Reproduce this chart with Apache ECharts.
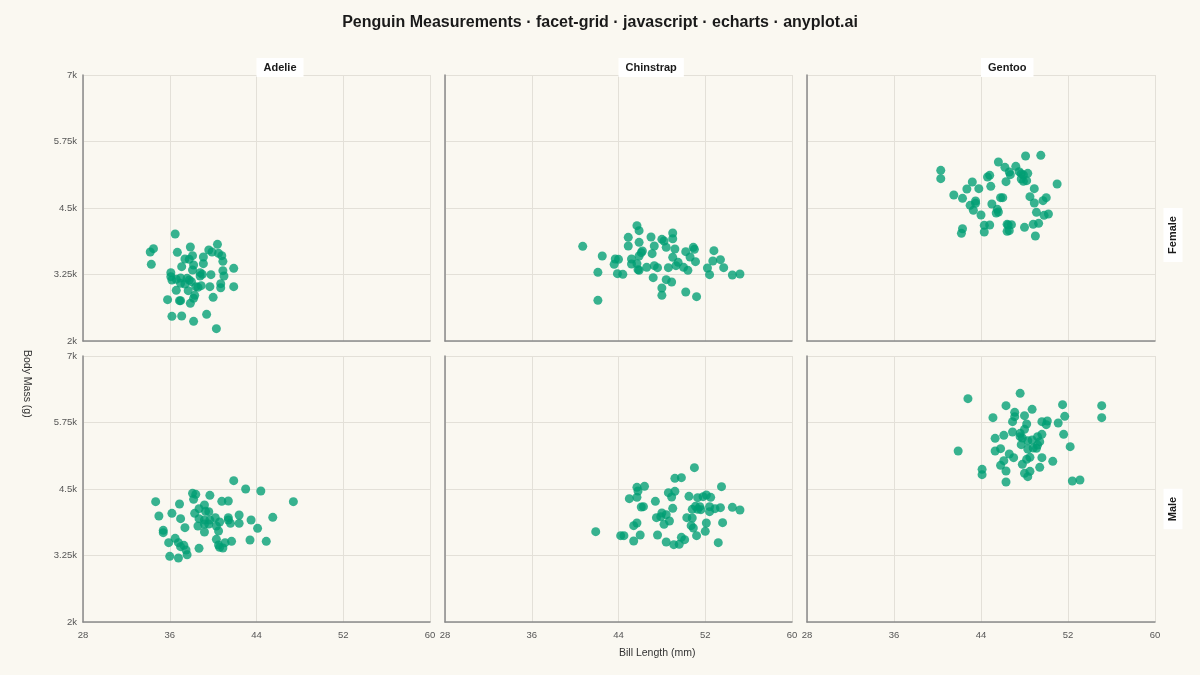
<!DOCTYPE html>
<html>
<head>
<meta charset="utf-8">
<script src="https://cdn.jsdelivr.net/npm/echarts@6/dist/echarts.min.js"></script>
<style>
  html, body { margin: 0; padding: 0; background: #FAF8F1; }
  #chart { width: 1200px; height: 675px; }
</style>
</head>
<body>
<div id="chart"></div>
<script>
// ---- Data (bill length mm, body mass g) ----
const species = ['Adelie', 'Chinstrap', 'Gentoo'];
const sexes = ['Female', 'Male'];
const xTickValues = [28, 36, 44, 52, 60];
const yTickValues = [2000, 3250, 4500, 5750, 7000];

const adelieFemale = [
  [36.5,4011],[34.5,3736],[34.2,3673],[34.3,3441],[37.9,3767],[40.4,3817],[36.7,3667],[38.1,3604],
  [39.6,3710],[39.9,3673],[40.5,3648],[40.8,3604],[40.9,3497],[39.1,3579],[39.1,3454],[37.4,3541],
  [37.8,3535],[38.2,3428],[37.1,3397],[38.1,3334],[41.9,3366],[40.9,3322],[41.0,3222],[36.1,3284],
  [36.1,3209],[36.2,3147],[36.6,3159],[37.0,3184],[37.6,3178],[37.8,3147],[38.0,3115],[38.8,3284],
  [39.0,3253],[38.8,3222],[39.8,3247],[37.0,3084],[37.4,3071],[38.4,3021],[38.6,3009],[38.9,3040],
  [39.7,3021],[40.7,3078],[40.7,3002],[41.9,3021],[36.6,2952],[37.7,2946],[38.3,2858],[38.2,2802],
  [40.0,2821],[35.8,2777],[36.9,2758],[37.0,2758],[37.9,2708],[36.2,2464],[37.1,2470],[39.4,2501],
  [38.2,2370],[40.3,2232]
];
const chinstrapFemale = [
  [45.7,4168],[45.9,4074],[44.9,3949],[44.9,3786],[45.9,3855],[47.0,3955],[48.0,3911],[48.2,3880],
  [49.0,4030],[49.0,3923],[47.3,3786],[48.4,3761],[49.2,3729],[50.9,3761],[51.0,3723],[50.2,3679],
  [46.2,3692],[46.1,3660],[45.9,3598],[47.1,3642],[50.6,3579],[52.8,3698],[40.7,3779],[42.5,3598],
  [43.7,3541],[44.0,3535],[43.6,3441],[45.2,3541],[45.2,3447],[45.7,3454],[45.8,3341],[45.9,3328],
  [46.6,3385],[47.3,3416],[47.6,3378],[48.6,3378],[49.0,3573],[49.5,3479],[49.3,3416],[50.0,3385],
  [50.4,3328],[51.1,3491],[52.7,3504],[53.4,3529],[53.7,3378],[52.2,3372],[52.4,3247],[42.1,3291],
  [43.9,3266],[44.4,3253],[47.2,3190],[48.4,3153],[48.9,3109],[54.5,3241],[55.2,3259],[48.0,2996],
  [48.0,2858],[50.2,2921],[51.2,2833],[42.1,2764]
];
const gentooFemale = [
  [48.1,5477],[49.5,5490],[45.6,5365],[46.2,5264],[47.2,5283],[46.6,5177],[46.7,5127],[47.5,5183],
  [47.7,5145],[48.3,5152],[47.9,5120],[47.9,5001],[48.2,5014],[47.7,5045],[44.8,5114],[44.6,5083],
  [46.3,4995],[44.9,4907],[43.2,4989],[42.7,4857],[43.8,4863],[40.3,5208],[40.3,5051],[41.5,4744],
  [42.3,4682],[43.5,4632],[43.5,4588],[43.0,4550],[43.3,4456],[45.0,4575],[45.8,4694],[46.0,4694],
  [48.9,4863],[48.5,4713],[48.9,4594],[49.7,4638],[50.0,4694],[51.0,4951],[49.1,4418],[49.8,4362],
  [50.2,4387],[45.5,4475],[45.6,4425],[45.4,4406],[44.0,4368],[44.3,4174],[44.8,4180],[46.4,4193],
  [46.5,4180],[46.8,4187],[46.4,4061],[46.6,4074],[44.3,4049],[42.3,4111],[42.2,4024],[48.0,4137],
  [48.8,4193],[49.3,4212],[49.0,3973]
];
const adelieMale = [
  [41.9,4657],[43.0,4500],[44.4,4462],[47.4,4262],[38.1,4419],[38.4,4400],[38.2,4306],[39.7,4381],
  [40.8,4268],[41.4,4274],[34.7,4262],[36.9,4218],[39.2,4199],[38.7,4130],[39.3,4080],[39.6,4074],
  [38.3,4043],[36.2,4043],[35.0,3992],[37.0,3942],[38.7,3942],[39.2,3917],[39.7,3917],[40.2,3961],
  [40.6,3880],[41.4,3961],[41.4,3917],[41.6,3855],[42.4,4011],[42.4,3855],[43.5,3917],[45.5,3967],
  [37.4,3773],[38.6,3804],[39.2,3842],[39.6,3842],[40.3,3804],[40.5,3710],[39.2,3692],[44.1,3761],
  [35.4,3723],[35.4,3679],[36.5,3573],[35.9,3491],[36.8,3491],[37.0,3416],[37.3,3441],[37.5,3353],
  [37.6,3265],[40.3,3554],[40.5,3447],[40.6,3403],[40.9,3391],[41.1,3491],[41.7,3516],[43.4,3541],
  [44.9,3516],[38.7,3385],[36.0,3234],[36.8,3203]
];
const chinstrapMale = [
  [51.0,4901],[49.2,4700],[49.8,4713],[45.7,4531],[45.8,4462],[46.4,4550],[45.7,4343],[45.0,4318],
  [47.4,4268],[48.6,4431],[49.2,4456],[48.9,4350],[50.5,4362],[51.3,4337],[51.8,4356],[52.1,4387],
  [52.5,4343],[53.5,4544],[46.1,4162],[46.3,4168],[49.0,4137],[50.8,4118],[51.1,4174],[51.3,4118],
  [51.5,4168],[51.6,4112],[52.4,4168],[52.4,4074],[52.9,4130],[53.4,4149],[54.5,4155],[55.2,4105],
  [47.5,3961],[47.9,3980],[48.0,4049],[48.4,4018],[48.7,3898],[48.2,3836],[50.3,3961],[50.8,3955],
  [45.7,3861],[45.4,3811],[50.7,3811],[50.9,3767],[52.1,3861],[53.6,3867],[41.9,3698],[44.2,3623],
  [44.5,3623],[46.0,3635],[45.4,3522],[47.6,3635],[48.4,3504],[49.1,3454],[49.6,3460],[49.8,3591],
  [50.1,3548],[51.2,3623],[52.0,3704],[53.2,3491]
];
const gentooMale = [
  [42.8,6198],[47.6,6298],[46.3,6066],[48.7,5997],[47.1,5941],[47.1,5860],[46.9,5766],[48.0,5878],
  [45.1,5841],[51.5,6085],[51.7,5866],[55.1,6066],[55.1,5841],[48.2,5722],[49.6,5766],[50.1,5778],
  [50.0,5709],[51.1,5741],[48.0,5622],[46.9,5571],[46.1,5509],[45.3,5452],[47.6,5546],[47.6,5484],
  [47.8,5459],[49.6,5528],[49.2,5484],[48.3,5408],[48.7,5421],[49.4,5390],[51.6,5528],[47.7,5333],
  [48.3,5252],[48.8,5271],[49.1,5264],[49.2,5327],[52.2,5296],[45.8,5258],[45.3,5214],[41.9,5214],
  [46.6,5158],[47.0,5089],[48.2,5058],[48.5,5095],[49.6,5089],[50.6,5020],[46.1,5033],[45.8,4945],
  [47.8,4964],[49.4,4907],[44.1,4870],[44.1,4769],[46.3,4838],[48.0,4794],[48.5,4832],[48.3,4732],
  [46.3,4631],[52.4,4650],[53.1,4669]
];

const panelData = {
  Female: { Adelie: adelieFemale, Chinstrap: chinstrapFemale, Gentoo: gentooFemale },
  Male:   { Adelie: adelieMale,   Chinstrap: chinstrapMale,   Gentoo: gentooMale }
};

// ---- Layout ----
const FONT = '"Liberation Sans", Arial, Helvetica, sans-serif';
const colLeft = [83, 445, 807];
const colWidth = [347, 347, 348];
const rowTop = [75, 356];
const rowHeight = 266;
const pointColor = '#009E73';

const grids = [], xAxes = [], yAxes = [], series = [], titles = [];
let idx = 0;
sexes.forEach((sex, r) => {
  species.forEach((sp, c) => {
    grids.push({ left: colLeft[c], top: rowTop[r], width: colWidth[c], height: rowHeight, containLabel: false });
    xAxes.push({
      type: 'value', gridIndex: idx, min: xTickValues[0], max: xTickValues[xTickValues.length - 1], interval: 8,
      axisLine: { show: true, lineStyle: { color: '#8a8a8a', width: 1.5 } },
      axisTick: { show: false },
      axisLabel: { show: r === 1, color: '#555', fontSize: 9.5, fontFamily: FONT, margin: 8 },
      splitLine: { show: true, lineStyle: { color: '#E3E0D8', width: 1 } }
    });
    yAxes.push({
      type: 'value', gridIndex: idx, min: yTickValues[0], max: yTickValues[yTickValues.length - 1], interval: 1250,
      axisLine: { show: true, lineStyle: { color: '#8a8a8a', width: 1.5 } },
      axisTick: { show: false },
      axisLabel: {
        show: c === 0, color: '#555', fontSize: 9.5, fontFamily: FONT, margin: 6,
        formatter: v => (v / 1000) + 'k'
      },
      splitLine: { show: true, lineStyle: { color: '#E3E0D8', width: 1 } }
    });
    series.push({
      type: 'scatter', name: sp + ' ' + sex, xAxisIndex: idx, yAxisIndex: idx,
      data: panelData[sex][sp], symbolSize: 9,
      itemStyle: { color: pointColor, opacity: 0.78 }
    });
    idx++;
  });
});

species.forEach((sp, c) => {
  titles.push({
    text: sp, left: colLeft[c] + colWidth[c] / 2, top: 58,
    backgroundColor: '#FFFFFF', padding: [4, 7, 4, 7],
    textStyle: { fontSize: 11, fontWeight: 'bold', color: '#1a1a1a', fontFamily: FONT }
  });
});
titles.unshift({
  text: 'Penguin Measurements · facet-grid · javascript · echarts · anyplot.ai',
  left: 'center', top: 10,
  textStyle: { fontSize: 16, fontWeight: 'bold', color: '#1a1a1a', fontFamily: FONT }
});

const stripCenters = [235, 509];
const graphics = [
  { type: 'text', x: 619, y: 653, style: { text: 'Bill Length (mm)', fill: '#333', font: '10.5px ' + FONT, textAlign: 'left', textVerticalAlign: 'middle' } },
  { type: 'text', x: 27, y: 350, rotation: -Math.PI / 2, style: { text: 'Body Mass (g)', fill: '#333', font: '10.5px ' + FONT, textAlign: 'left', textVerticalAlign: 'middle' } }
];
sexes.forEach((sex, r) => {
  graphics.push({
    type: 'text', x: 1173, y: stripCenters[r], rotation: Math.PI / 2,
    style: {
      text: sex, fill: '#1a1a1a', font: 'bold 11px ' + FONT, textAlign: 'center', textVerticalAlign: 'middle',
      backgroundColor: '#FFFFFF', padding: [4, 8, 4, 8]
    }
  });
});

const chart = echarts.init(document.getElementById('chart'), null, { renderer: 'canvas' });
chart.setOption({
  backgroundColor: '#FAF8F1',
  animation: false,
  title: titles,
  grid: grids,
  xAxis: xAxes,
  yAxis: yAxes,
  series: series,
  graphic: graphics
});
</script>
</body>
</html>
